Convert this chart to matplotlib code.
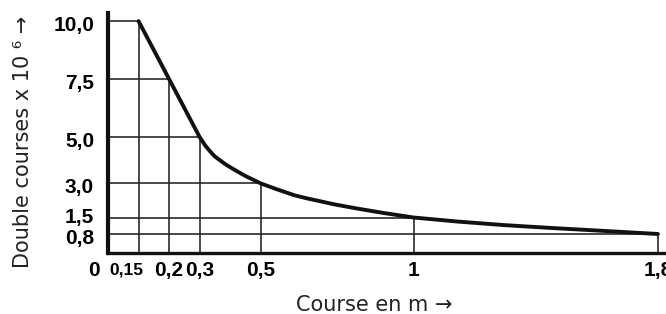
import matplotlib.pyplot as plt
from matplotlib.transforms import ScaledTranslation

# repères (position sur l'axe, valeur lue) + libellés
x_pos = [0.1, 0.2, 0.3, 0.5, 1.0, 1.8]
x_lab = ["0,15", "0,2", "0,3", "0,5", "1", "1,8"]
y_pos = [10.0, 7.5, 5.0, 3.0, 1.5, 0.8]
y_lab = ["10,0", "7,5", "5,0", "3,0", "1,5", "0,8"]

# courbe
course = [0.1, 0.2, 0.3, 0.318, 0.335, 0.35, 0.385, 0.415, 0.45, 0.5,
          0.55, 0.61, 0.65, 0.74, 0.81, 0.9, 1.0, 1.15, 1.3, 1.45,
          1.56, 1.68, 1.8]
doubles = [10.0, 7.5, 5.0, 4.64, 4.37, 4.16, 3.82, 3.58, 3.32, 3.0,
           2.76, 2.49, 2.36, 2.1, 1.93, 1.73, 1.53, 1.35, 1.2, 1.08,
           1.0, 0.91, 0.82]

fig = plt.figure(figsize=(6.66, 3.14), dpi=100)
ax = fig.add_axes([108/666, 61/314, 1.83*305.5/666, 240/314])

gris = "#2a2a2a"
ax.hlines(y_pos, 0, x_pos, color=gris, lw=1.2)
ax.vlines(x_pos, 0, y_pos, color=gris, lw=1.2)
ax.plot(course, doubles, c="#111111", lw=2.8, solid_joinstyle="round",
        solid_capstyle="round", clip_on=False)

ax.set_xlim(0, 1.83)
ax.set_ylim(0, 10.35)
for s in ["top", "right"]:
    ax.spines[s].set_visible(False)
ax.spines["left"].set_linewidth(3.0)
ax.spines["bottom"].set_linewidth(2.4)
ax.spines["left"].set_color("#111111")
ax.spines["bottom"].set_color("#111111")

tick_font = dict(family="Liberation Sans", weight="bold", size=15)
ax.set_xticks(x_pos)
ax.set_xticklabels(x_lab, **tick_font)
ax.set_yticks(y_pos)
ax.set_yticklabels(y_lab, **tick_font)
ax.tick_params(axis="x", length=0, pad=6)
ax.tick_params(axis="y", length=0, pad=10)

# petits décalages des libellés comme sur l'original
for lab in ax.get_xticklabels():
    if lab.get_text() == "0,15":
        lab.set_fontsize(12.5)
        lab.set_transform(lab.get_transform() +
                          ScaledTranslation(-0.12, -0.01, fig.dpi_scale_trans))
for lab in ax.get_yticklabels():
    dy = 0.03 if lab.get_text() == "1,5" else -0.025
    lab.set_transform(lab.get_transform() +
                      ScaledTranslation(0, dy, fig.dpi_scale_trans))

ax.annotate("0", xy=(0, 0), xycoords="data", xytext=(-10, -6),
            textcoords="offset points", ha="center", va="top", **tick_font)

fig.text(374/666, 1 - 311/314, "Course en m \u2192", ha="center",
         va="baseline", family="DejaVu Sans", size=15, color="#222222")
fig.text(23/666, 1 - 142/314, "Double courses x 10 \u2076 \u2192",
         rotation=90, ha="center", va="center", family="DejaVu Sans",
         size=15, color="#222222")

fig.savefig("out.png", dpi=100)
